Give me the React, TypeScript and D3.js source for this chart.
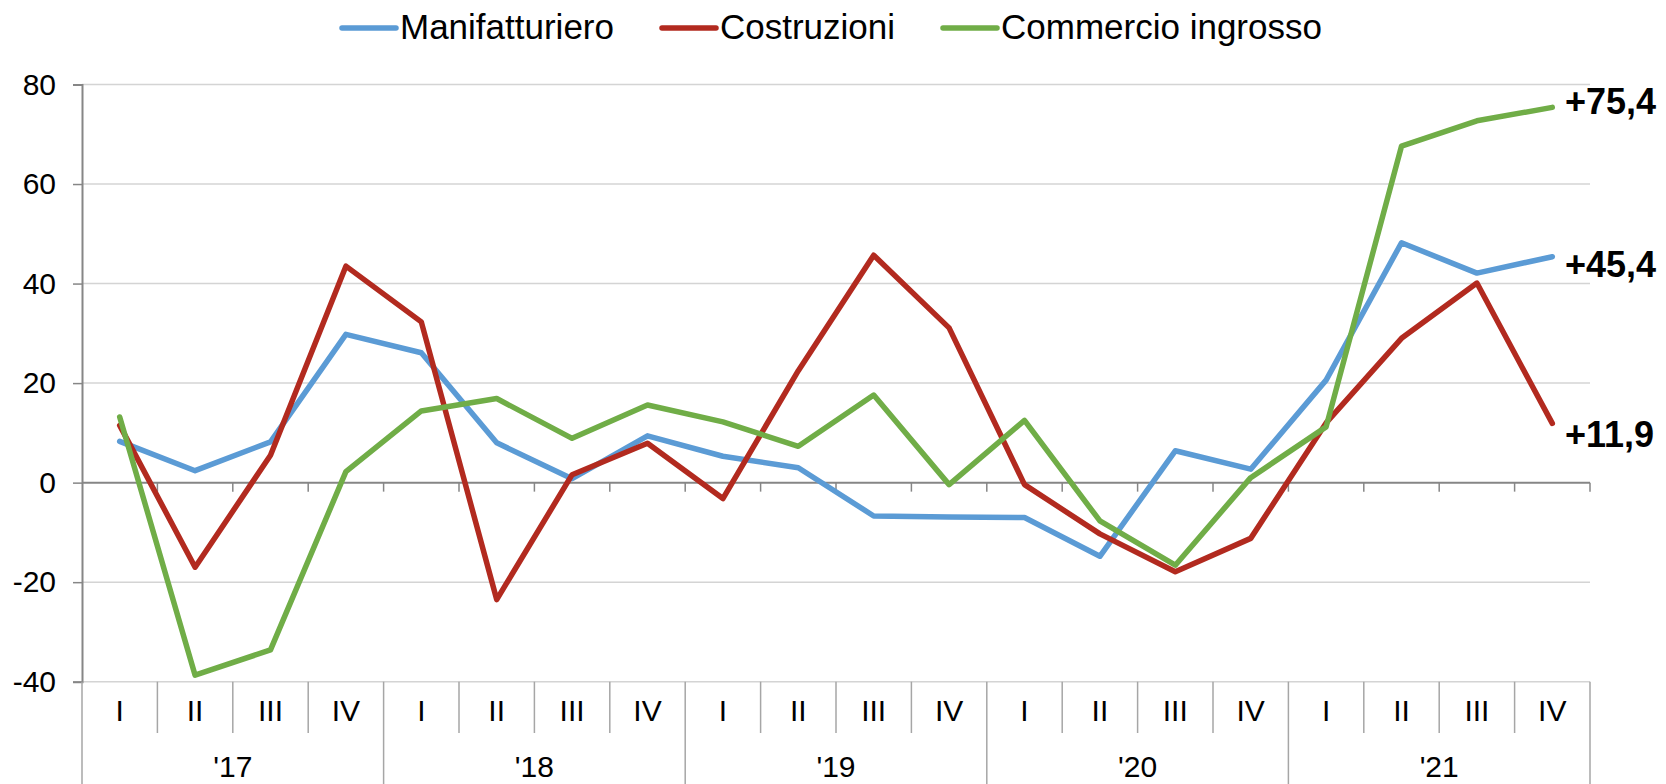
import React, { useEffect, useRef } from 'react';
import * as d3 from 'd3';

const quarters = ['I', 'II', 'III', 'IV'];
const years = ["'17", "'18", "'19", "'20", "'21"];

const manifatturiero = [8.3, 2.4, 8.2, 29.8, 26.1, 8.0, 0.8, 9.4, 5.3, 3.0, -6.7, -6.9, -7.0, -14.8, 6.4, 2.7, 20.6, 48.2, 42.1, 45.4];
const costruzioni = [11.5, -17.0, 5.5, 43.5, 32.3, -23.5, 1.6, 7.9, -3.2, 22.5, 45.7, 31.1, -0.4, -10.3, -17.9, -11.2, 12.0, 29.0, 40.1, 11.9];
const commercio = [13.2, -38.7, -33.6, 2.2, 14.4, 16.9, 8.9, 15.6, 12.2, 7.3, 17.6, -0.4, 12.5, -7.7, -16.6, 1.0, 11.2, 67.6, 72.7, 75.4];

const yTicks = [-40, -20, 0, 20, 40, 60, 80];

const series = [
  { name: 'Manifatturiero', values: manifatturiero, color: '#5B9BD5', legendX: 342, endDy: 20 },
  { name: 'Costruzioni', values: costruzioni, color: '#B22A1F', legendX: 662, endDy: 24 },
  { name: 'Commercio ingrosso', values: commercio, color: '#70AD47', legendX: 943, endDy: 7 },
];

const W = 1666;
const H = 784;
const FONT = '"Liberation Sans", Arial, sans-serif';

const App = () => {
  const ref = useRef(null);

  useEffect(() => {
    const svg = d3.select(ref.current);
    svg.selectAll('*').remove();

    const left = 82;
    const right = 1590;
    const top = 84.5;
    const bottom = 681.7;

    const cats = years.flatMap(y => quarters.map(q => `${y}-${q}`));
    const x = d3.scaleBand().domain(cats).range([left, right]).padding(0);
    const y = d3.scaleLinear().domain([-40, 80]).range([bottom, top]);
    const cx = i => x(cats[i]) + x.bandwidth() / 2;

    // gridlines
    svg.append('g')
      .selectAll('line')
      .data(yTicks.filter(t => t !== 0))
      .enter()
      .append('line')
      .attr('x1', left)
      .attr('x2', right)
      .attr('y1', d => y(d))
      .attr('y2', d => y(d))
      .attr('stroke', '#D4D4D4')
      .attr('stroke-width', 1.5);

    // y axis
    const yAxis = svg.append('g').attr('transform', `translate(${left},0)`)
      .call(d3.axisLeft(y).tickValues(yTicks).tickSize(9).tickPadding(17).tickFormat(d => String(d)));
    yAxis.select('.domain').attr('stroke', '#868686').attr('stroke-width', 2);
    yAxis.selectAll('.tick line').attr('stroke', '#868686').attr('stroke-width', 1.5);
    yAxis.selectAll('.tick text')
      .attr('font-family', FONT)
      .attr('font-size', 30)
      .attr('fill', '#000');

    // zero axis with ticks
    svg.append('line')
      .attr('x1', left).attr('x2', right)
      .attr('y1', y(0)).attr('y2', y(0))
      .attr('stroke', '#868686').attr('stroke-width', 2);
    svg.append('g')
      .selectAll('line')
      .data(d3.range(1, cats.length + 1))
      .enter()
      .append('line')
      .attr('x1', i => left + i * x.bandwidth())
      .attr('x2', i => left + i * x.bandwidth())
      .attr('y1', y(0))
      .attr('y2', y(0) + 9)
      .attr('stroke', '#868686')
      .attr('stroke-width', 1.5);

    // category label dividers
    const dividers = svg.append('g');
    d3.range(0, cats.length + 1).forEach(i => {
      const xx = left + i * x.bandwidth();
      const isYear = i % 4 === 0;
      dividers.append('line')
        .attr('x1', xx).attr('x2', xx)
        .attr('y1', bottom).attr('y2', isYear ? H : 733)
        .attr('stroke', '#A6A6A6').attr('stroke-width', 1.5);
    });

    svg.append('g')
      .selectAll('text')
      .data(cats)
      .enter()
      .append('text')
      .attr('x', (d, i) => cx(i))
      .attr('y', 721)
      .attr('text-anchor', 'middle')
      .attr('font-family', FONT)
      .attr('font-size', 30)
      .text(d => d.split('-')[1]);

    svg.append('g')
      .selectAll('text')
      .data(years)
      .enter()
      .append('text')
      .attr('x', (d, i) => (cx(i * 4) + cx(i * 4 + 3)) / 2)
      .attr('y', 777)
      .attr('text-anchor', 'middle')
      .attr('font-family', FONT)
      .attr('font-size', 30)
      .text(d => d);

    // lines
    const line = d3.line().x((d, i) => cx(i)).y(d => y(d));
    series.forEach(s => {
      svg.append('path')
        .datum(s.values)
        .attr('d', line)
        .attr('fill', 'none')
        .attr('stroke', s.color)
        .attr('stroke-width', 5.5)
        .attr('stroke-linejoin', 'round')
        .attr('stroke-linecap', 'round');
    });

    // end labels
    series.forEach(s => {
      const v = s.values[s.values.length - 1];
      svg.append('text')
        .attr('x', 1565)
        .attr('y', y(v) + s.endDy)
        .attr('font-family', FONT)
        .attr('font-size', 36)
        .attr('font-weight', 'bold')
        .text(`+${d3.format('.1f')(v).replace('.', ',')}`);
    });

    // legend
    const legend = svg.append('g');
    series.forEach(s => {
      legend.append('line')
        .attr('x1', s.legendX).attr('x2', s.legendX + 54)
        .attr('y1', 28).attr('y2', 28)
        .attr('stroke', s.color).attr('stroke-width', 5.5)
        .attr('stroke-linecap', 'round');
      legend.append('text')
        .attr('x', s.legendX + 58)
        .attr('y', 39)
        .attr('font-family', FONT)
        .attr('font-size', 35)
        .text(s.name);
    });
  }, []);

  return (
    <svg
      ref={ref}
      width={W}
      height={H}
      style={{ position: 'absolute', left: 0, top: 0, background: '#fff' }}
    />
  );
};

export default App;
